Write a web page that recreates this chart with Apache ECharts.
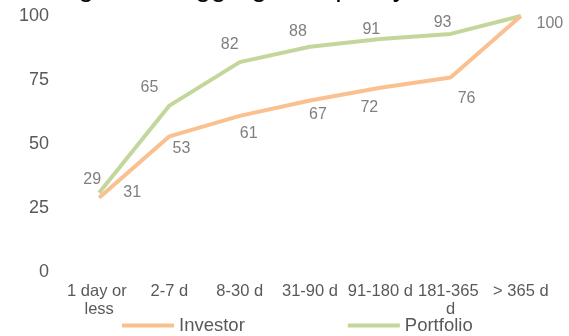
<!DOCTYPE html>
<html>
<head>
<meta charset="utf-8">
<script src="https://cdn.jsdelivr.net/npm/echarts@6/dist/echarts.min.js"></script>
<style>
html,body{margin:0;padding:0;background:#fff;}
#chart{width:569px;height:336px;}
</style>
</head>
<body>
<div id="chart"></div>
<script>
const titleText = 'Hedge fund aggregate liquidity';
const categories = ['1 day or less', '2-7 d', '8-30 d', '31-90 d', '91-180 d', '181-365 d', '> 365 d'];
const investor = [29, 53, 61, 67, 72, 76, 100];
const portfolio = [31, 65, 82, 88, 91, 93, 100];
const yTicks = { min: 0, max: 100, interval: 25 };

// label offsets (style only)
const investorLabelOffsets = [[-7, -18], [12, 12], [9, 18], [8, 14], [-11, 20], [16, 21], [29, 8]];
const portfolioLabelOffsets = [[33, 0], [-20, -18], [-10, -17], [-12, -15], [-9, -9], [-8, -11], null];

const FONT = '"Liberation Sans", Arial, sans-serif';

function buildData(values, offsets) {
  return values.map((v, i) => {
    const off = offsets[i];
    if (!off) return { value: v, label: { show: false } };
    return { value: v, label: { show: true, position: 'inside', offset: off } };
  });
}

const chart = echarts.init(document.getElementById('chart'), null, { renderer: 'canvas' });
chart.setOption({
  animation: false,
  backgroundColor: '#ffffff',
  textStyle: { fontFamily: FONT },
  title: {
    text: titleText,
    left: 27,
    top: -26,
    padding: 0,
    textStyle: { fontSize: 28, fontWeight: 'normal', color: '#000000', fontFamily: FONT }
  },
  grid: { left: 64, right: 13, top: 16, bottom: 64, containLabel: false },
  legend: {
    left: 122,
    top: 316,
    padding: 0,
    itemWidth: 52,
    itemHeight: 4,
    itemGap: 103,
    textStyle: { fontSize: 18.5, color: '#595959', fontFamily: FONT },
    data: [
      { name: 'Investor', icon: 'rect' },
      { name: 'Portfolio', icon: 'rect' }
    ]
  },
  xAxis: {
    type: 'category',
    data: categories,
    boundaryGap: true,
    axisLine: { show: false },
    axisTick: { show: false },
    splitLine: { show: false },
    axisLabel: {
      interval: 0,
      margin: 10,
      fontSize: 16.5,
      lineHeight: 18,
      color: '#595959',
      fontFamily: FONT,
      width: 68,
      overflow: 'break'
    }
  },
  yAxis: {
    type: 'value',
    min: yTicks.min,
    max: yTicks.max,
    interval: yTicks.interval,
    axisLine: { show: false },
    axisTick: { show: false },
    splitLine: { show: false },
    axisLabel: { margin: 15, fontSize: 18, color: '#595959', fontFamily: FONT }
  },
  series: [
    {
      name: 'Investor',
      type: 'line',
      z: 3,
      data: buildData(investor, investorLabelOffsets),
      symbol: 'circle',
      symbolSize: 0,
      showSymbol: true,
      color: '#FAC090',
      lineStyle: { width: 4, color: '#FAC090' },
      label: { show: true, fontSize: 16, color: '#7F7F7F', fontFamily: FONT }
    },
    {
      name: 'Portfolio',
      type: 'line',
      z: 2,
      data: buildData(portfolio, portfolioLabelOffsets),
      symbol: 'circle',
      symbolSize: 0,
      showSymbol: true,
      color: '#C3D69B',
      lineStyle: { width: 4, color: '#C3D69B' },
      label: { show: true, fontSize: 16, color: '#7F7F7F', fontFamily: FONT }
    }
  ]
});
</script>
</body>
</html>
